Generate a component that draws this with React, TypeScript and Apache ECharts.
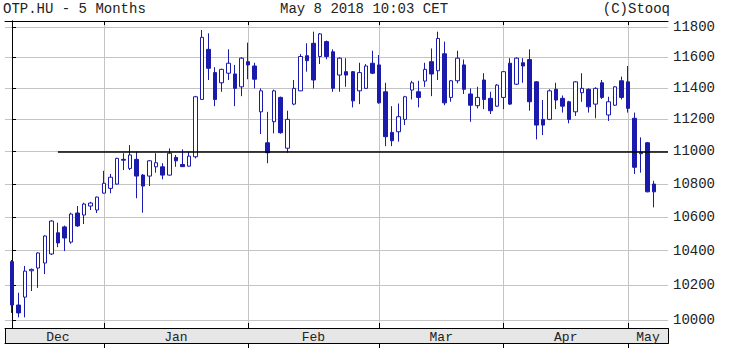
import React, { useEffect, useRef } from "react";
import * as echarts from "echarts";

// Trading days (categories)
const dates = [
  "2017-12-08","2017-12-11","2017-12-12","2017-12-13","2017-12-14","2017-12-15","2017-12-18","2017-12-19","2017-12-20","2017-12-21","2017-12-22","2017-12-27","2017-12-28","2017-12-29",
  "2018-01-02","2018-01-03","2018-01-04","2018-01-05","2018-01-08","2018-01-09","2018-01-10","2018-01-11","2018-01-12","2018-01-15","2018-01-16","2018-01-17","2018-01-18","2018-01-19","2018-01-22","2018-01-23","2018-01-24","2018-01-25","2018-01-26","2018-01-29","2018-01-30","2018-01-31",
  "2018-02-01","2018-02-02","2018-02-05","2018-02-06","2018-02-07","2018-02-08","2018-02-09","2018-02-12","2018-02-13","2018-02-14","2018-02-15","2018-02-16","2018-02-19","2018-02-20","2018-02-21","2018-02-22","2018-02-23","2018-02-26","2018-02-27","2018-02-28",
  "2018-03-01","2018-03-02","2018-03-05","2018-03-06","2018-03-07","2018-03-08","2018-03-09","2018-03-12","2018-03-13","2018-03-14","2018-03-19","2018-03-20","2018-03-21","2018-03-22","2018-03-23","2018-03-26","2018-03-27","2018-03-28","2018-03-29",
  "2018-04-03","2018-04-04","2018-04-05","2018-04-06","2018-04-09","2018-04-10","2018-04-11","2018-04-12","2018-04-13","2018-04-16","2018-04-17","2018-04-18","2018-04-19","2018-04-20","2018-04-23","2018-04-24","2018-04-25","2018-04-26","2018-04-27",
  "2018-05-02","2018-05-03","2018-05-04","2018-05-07","2018-05-08"
];

const opens = [
  10335,10085,10130,10282,10298,10327,10380,10505,10540,10450,10623,10611,10665,10641,
  10743,10772,10798,10950,10894,10950,10853,10847,10904,10904,10853,10962,10918,10908,10966,11327,11652,11500,11434,11496,11491,11408,
  11571,11543,11248,11053,11185,11340,11019,11297,11382,11610,11692,11605,11703,11636,11484,11506,11506,11382,11398,11561,
  11550,11376,11118,11122,11200,11387,11376,11445,11571,11512,11623,11340,11447,11550,11362,11287,11452,11334,11284,
  11340,11561,11425,11564,11585,11440,11200,11200,11392,11334,11312,11248,11370,11392,11297,11434,11228,11290,11447,
  11440,11207,10985,11053,10798
];
const highs = [
  10345,10155,10310,10295,10390,10490,10580,10565,10548,10625,10665,10685,10690,10722,
  10879,10860,10960,10988,11038,10998,10860,10945,10988,10926,11018,10977,11012,10998,11350,11780,11758,11535,11525,11652,11550,11600,
  11696,11564,11398,11248,11390,11345,11255,11452,11621,11692,11769,11760,11710,11652,11600,11594,11510,11564,11555,11643,
  11615,11434,11284,11301,11350,11447,11447,11564,11658,11769,11703,11452,11643,11585,11398,11408,11496,11376,11425,
  11510,11594,11600,11594,11652,11445,11323,11392,11434,11352,11318,11445,11496,11398,11405,11452,11344,11412,11474,
  11543,11243,11087,11058,10818
];
const lows = [
  10040,10015,10015,10165,10183,10263,10375,10420,10397,10440,10540,10557,10641,10623,
  10740,10742,10795,10884,10884,10712,10625,10786,10868,10827,10850,10904,10904,10905,10956,11325,11452,11284,11376,11452,11284,11348,
  11457,11398,11108,10926,11112,11110,10991,11290,11380,11506,11398,11556,11587,11376,11376,11408,11276,11297,11395,11490,
  11300,11032,11032,11060,11164,11327,11276,11408,11348,11452,11290,11312,11430,11362,11185,11270,11265,11234,11280,
  11265,11292,11420,11434,11255,11074,11101,11195,11265,11243,11175,11222,11312,11243,11207,11330,11190,11285,11327,
  11243,10860,10868,10748,10657
];
const closes = [
  10085,10040,10280,10290,10386,10486,10575,10445,10474,10617,10546,10677,10683,10719,
  10803,10840,10956,10945,10977,10847,10786,10941,10929,10853,10988,10941,10905,10970,11344,11731,11528,11327,11521,11561,11398,11594,
  11550,11457,11382,10991,11382,11116,11200,11398,11605,11578,11452,11754,11605,11398,11594,11484,11318,11500,11543,11496,
  11305,11091,11066,11217,11344,11434,11340,11521,11491,11724,11305,11447,11594,11392,11290,11340,11327,11255,11419,
  11506,11297,11594,11543,11312,11164,11164,11382,11323,11284,11200,11440,11398,11280,11398,11340,11312,11408,11340,
  11270,10901,10992,10751,10751
];

// Tick labels and texts
const priceTicks = [10000, 10200, 10400, 10600, 10800, 11000, 11200, 11400, 11600, 11800];
const monthNames = ["Dec", "Jan", "Feb", "Mar", "Apr", "May"];
const ticker = "OTP.HU - 5 Months";
const stamp = "May 8 2018 10:03 CET";
const credit = "(C)Stooq";
const refLevel = 11000;
const refStartIndex = 7;

export default function App() {
  const ref = useRef<HTMLDivElement>(null);
  useEffect(() => {
    document.body.style.margin = "0";
    const chart = echarts.init(ref.current!, null, { renderer: "svg" });
    const lg = (v: number) => Math.log10(v);
    const n = dates.length;
    const monthStarts: number[] = [];
    for (let i = 1; i < n; i++) {
      if (dates[i].slice(5, 7) !== dates[i - 1].slice(5, 7)) monthStarts.push(i);
    }
    const xMin = -1.07;
    const xMax = 100.1;
    const bounds = [0, ...monthStarts, xMax];
    const labelPos = monthNames.map((_, k) => (bounds[k] + bounds[k + 1]) / 2);
    const labelName = (v: number) => {
      let best = 0;
      labelPos.forEach((p, k) => {
        if (Math.abs(p - v) < Math.abs(labelPos[best] - v)) best = k;
      });
      return monthNames[best];
    };
    const yMin = 4 - 8 / 4076;
    const yMax = 4 + 299 / 4076;
    const yTicks = priceTicks.map(lg);
    const blue = "#1a1aad";
    const font = "Liberation Mono";
    const gridColor = "#c4c4c4";

    chart.setOption({
      animation: false,
      grid: { left: 5, right: 62, top: 21, bottom: 20, show: false },
      graphic: [
        {
          type: "rect",
          z: -10,
          shape: { x: 5.5, y: 328.5, width: 663, height: 15 },
          style: { fill: "#e6e6e6", stroke: "#000", lineWidth: 1 },
        },
        { type: "text", left: 3, top: 2, style: { text: ticker, font: `14px "${font}"`, fill: "#222" } },
        { type: "text", left: 280, top: 2, style: { text: stamp, font: `14px "${font}"`, fill: "#222" } },
        { type: "text", right: 60, top: 2, style: { text: credit, font: `14px "${font}"`, fill: "#222" } },
      ],
      xAxis: [
        {
          type: "value",
          min: xMin,
          max: xMax,
          position: "bottom",
          axisLine: { show: true, lineStyle: { color: "#000", width: 1 } },
          axisTick: { show: true, inside: true, length: 5, customValues: monthStarts, lineStyle: { color: "#000" } },
          splitLine: { show: true, lineStyle: { color: gridColor, width: 1 } },
          axisLabel: {
            show: true,
            customValues: labelPos,
            formatter: (v: number) => labelName(v),
            margin: 3,
            fontFamily: font,
            fontSize: 13,
            color: "#222",
          },
        },
        {
          type: "value",
          min: xMin,
          max: xMax,
          position: "bottom",
          offset: 15,
          axisLine: { show: true, lineStyle: { color: "#000", width: 1 } },
          axisTick: { show: true, inside: false, length: 5, customValues: monthStarts, lineStyle: { color: "#000" } },
          splitLine: { show: false },
          axisLabel: { show: false },
        },
        {
          type: "value",
          min: xMin,
          max: xMax,
          position: "top",
          axisLine: { show: true, lineStyle: { color: "#000", width: 1 } },
          axisTick: { show: true, inside: true, length: 4, customValues: monthStarts, lineStyle: { color: "#000" } },
          splitLine: { show: false },
          axisLabel: { show: false },
        },
      ],
      yAxis: [
        {
          type: "value",
          min: yMin,
          max: yMax,
          position: "right",
          axisLine: { show: true, lineStyle: { color: "#000", width: 1 } },
          axisTick: { show: true, inside: false, length: 4, customValues: yTicks, lineStyle: { color: "#000" } },
          splitLine: { show: true, lineStyle: { color: gridColor, width: 1 } },
          axisLabel: {
            show: true,
            customValues: yTicks,
            formatter: (v: number) => String(Math.round(Math.pow(10, v) / 10) * 10),
            margin: 5,
            fontFamily: font,
            fontSize: 14,
            color: "#222",
          },
        },
        {
          type: "value",
          min: yMin,
          max: yMax,
          position: "left",
          axisLine: { show: true, lineStyle: { color: "#000", width: 1 } },
          axisTick: { show: true, inside: true, length: 4, customValues: yTicks, lineStyle: { color: "#000" } },
          splitLine: { show: false },
          axisLabel: { show: false },
        },
      ],
      series: [
        {
          type: "candlestick",
          xAxisIndex: 0,
          yAxisIndex: 0,
          data: dates.map((_, i) => [i, lg(opens[i]), lg(closes[i]), lg(lows[i]), lg(highs[i])]),
          encode: { x: 0, y: [1, 2, 3, 4] },
          barWidth: 4,
          itemStyle: {
            color: "#ffffff",
            color0: blue,
            borderColor: blue,
            borderColor0: blue,
            borderWidth: 1,
          },
          markLine: {
            silent: true,
            symbol: ["none", "none"],
            label: { show: false },
            lineStyle: { color: "#000", width: 1.5, type: "solid" },
            data: [[{ coord: [refStartIndex, lg(refLevel)] }, { coord: [xMax, lg(refLevel)] }]],
          },
        },
      ],
    });
    return () => chart.dispose();
  }, []);
  return <div ref={ref} style={{ width: 730, height: 348 }} />;
}
